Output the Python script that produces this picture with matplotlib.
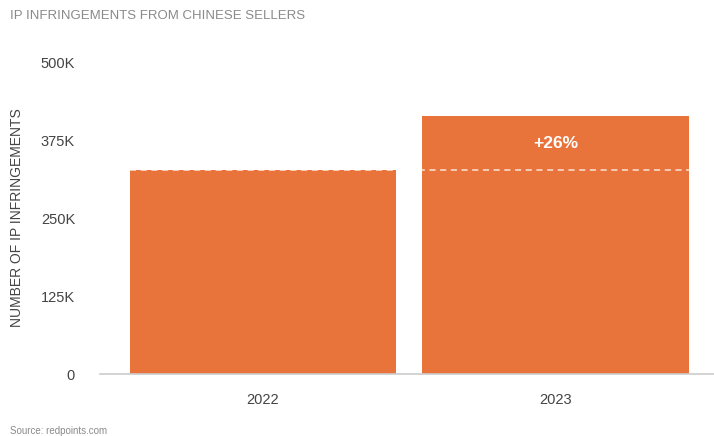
import matplotlib
matplotlib.use("Agg")
import matplotlib.pyplot as plt
from matplotlib.ticker import FuncFormatter

plt.rcParams["font.family"] = ["Liberation Sans", "DejaVu Sans"]

# data
years = ["2022", "2023"]
infringements = [327000, 413000]
change_label = "+26%"
y_ticks = [0, 125000, 250000, 375000, 500000]

bar_color = "#E8743B"
text_color = "#444444"

fig = plt.figure(figsize=(7.14, 4.36), dpi=100)
ax = fig.add_axes([100 / 714, 1 - 374 / 436, 614 / 714, (374 - 62) / 436])

x = range(len(years))
ax.bar(x, infringements, width=0.91, color=bar_color, zorder=2)

# dashed reference line at the 2022 level across both bars
ax.hlines(infringements[0], -0.455, 1.455, colors="white", linestyles=(0, (4, 3)),
          linewidth=1.1, alpha=0.8, zorder=3)

ax.text(1, 369000, change_label,
        ha="center", va="center", color="white", fontsize=12.5, fontweight="bold", zorder=4)

ax.set_xlim(-0.557, 1.542)
ax.set_ylim(0, 500000)
ax.set_xticks(list(x))
ax.set_xticklabels(years)
ax.set_yticks(y_ticks)
ax.yaxis.set_major_formatter(FuncFormatter(lambda v, p: "0" if v == 0 else "%dK" % (v / 1000)))

for s in ["top", "right", "left"]:
    ax.spines[s].set_visible(False)
ax.spines["bottom"].set_color("#cccccc")
ax.spines["bottom"].set_linewidth(1.2)
ax.tick_params(axis="both", length=0, colors=text_color, labelsize=10.5)
ax.tick_params(axis="y", pad=18)
ax.tick_params(axis="x", pad=14)

ax.set_ylabel("NUMBER OF IP INFRINGEMENTS", color=text_color, fontsize=10)
ax.yaxis.set_label_coords(-0.124, 0.5)

fig.text(10 / 714, 1 - 16 / 436, "IP INFRINGEMENTS FROM CHINESE SELLERS",
         color="#8a8a8a", fontsize=9.5, ha="left", va="center")
fig.text(10 / 714, 1 - 431 / 436, "Source: redpoints.com",
         color="#8a8a8a", fontsize=7, ha="left", va="center")

fig.savefig("out.png", dpi=100)
